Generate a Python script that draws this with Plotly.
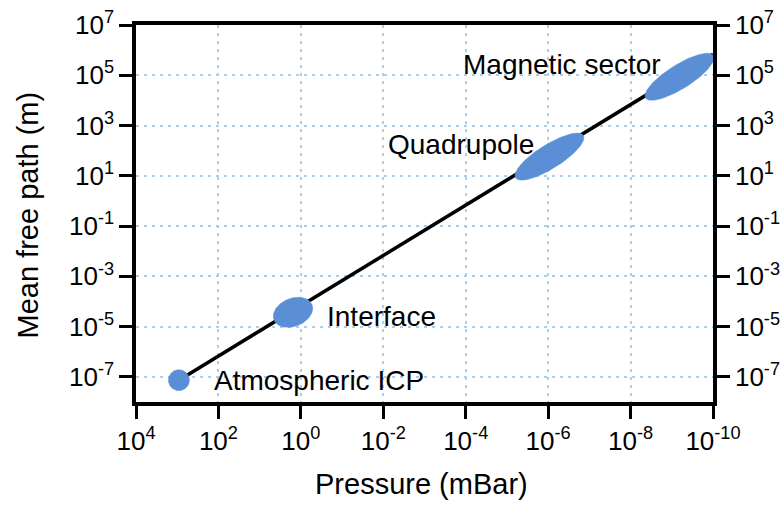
import numpy as np
import plotly.graph_objects as go

# ---------------- data ----------------
labels = ["Atmospheric ICP", "Interface", "Quadrupole", "Magnetic sector"]
pressure = [910, 1.55, 9.3e-7, 6.5e-10]          # mBar (region centres)
mean_free_path = [7.4e-8, 3.7e-5, 58, 8.7e4]      # m

line_pressure = [910, 1e-10]
line_mfp = [7.4e-8, 6.8e5]

x_tick_exp = [4, 2, 0, -2, -4, -6, -8, -10]
y_tick_exp = [-7, -5, -3, -1, 1, 3, 5, 7]

x_title = "Pressure (mBar)"
y_title = "Mean free path (m)"

# ---------------- style / layout ----------------
W, H = 780, 506
ML, MR, MT, MB = 136, 67, 25, 104
X_RANGE = [4, -10]
Y_RANGE = [-8, 7]
ppd_x = (W - ML - MR) / abs(X_RANGE[1] - X_RANGE[0])
ppd_y = (H - MT - MB) / abs(Y_RANGE[1] - Y_RANGE[0])

BLUE = "#5a8fd6"
GRID = "#a9cfe9"
FONT = "Liberation Sans, Arial, sans-serif"
TICK_SIZE = 26

# ellipse semi-axes (px) and tilt (deg)
ell_style = [(10.5, 10.5, 0), (20.5, 14, 22), (40, 12, 32), (40, 12, 32)]
# label placement: anchor, xshift, yshift (px)
lab_style = [("left", 33, 0), ("left", 32, -4), ("right", -13.5, 12), ("right", -16.5, 12)]

fig = go.Figure()

fig.add_trace(go.Scatter(
    x=line_pressure, y=line_mfp, mode="lines",
    line=dict(color="black", width=3.5), hoverinfo="skip", showlegend=False))

# invisible trace so that the mirrored right-hand axis is drawn
fig.add_trace(go.Scatter(
    x=line_pressure, y=line_mfp, yaxis="y2", mode="lines",
    line=dict(color="rgba(0,0,0,0)", width=0), hoverinfo="skip", showlegend=False))

t = np.linspace(0, 2 * np.pi, 181)
for p, m, (a, b, th) in zip(pressure, mean_free_path, ell_style):
    th = np.radians(th)
    dx = a * np.cos(t) * np.cos(th) - b * np.sin(t) * np.sin(th)
    dy = a * np.cos(t) * np.sin(th) + b * np.sin(t) * np.cos(th)
    xs = 10 ** (np.log10(p) - dx / ppd_x)   # reversed x axis
    ys = 10 ** (np.log10(m) + dy / ppd_y)
    fig.add_trace(go.Scatter(
        x=xs, y=ys, mode="lines", fill="toself", fillcolor=BLUE,
        line=dict(color=BLUE, width=0.5), hoverinfo="skip", showlegend=False))

for lab, p, m, (anc, xs_, ys_) in zip(labels, pressure, mean_free_path, lab_style):
    fig.add_annotation(
        x=np.log10(p), y=np.log10(m), xref="x", yref="y", text=lab,
        showarrow=False, xanchor=anc, yanchor="middle", xshift=xs_, yshift=ys_,
        font=dict(family=FONT, size=28, color="black"))

# axis titles
fig.add_annotation(x=0.5, y=0, xref="paper", yref="paper", text=x_title,
                   showarrow=False, xanchor="center", yanchor="middle",
                   xshift=-3, yshift=-82, font=dict(family=FONT, size=29, color="black"))
fig.add_annotation(x=0, y=0.5, xref="paper", yref="paper", text=y_title,
                   showarrow=False, xanchor="center", yanchor="middle", textangle=-90,
                   xshift=-109, yshift=-2, font=dict(family=FONT, size=29, color="black"))

xt_vals = [10.0 ** e for e in x_tick_exp]
xt_text = [f"10<sup>{e}</sup>" for e in x_tick_exp]
yt_vals = [10.0 ** e for e in y_tick_exp]
yt_text = [f"10<sup>{e}</sup>" for e in y_tick_exp]

tickfont = dict(family=FONT, size=TICK_SIZE, color="black")
common = dict(type="log", showline=True, linecolor="black", linewidth=3.5,
              ticks="outside", ticklen=13, tickwidth=3, tickcolor="black",
              tickfont=tickfont, zeroline=False, automargin=False)

fig.update_layout(
    width=W, height=H,
    margin=dict(l=ML, r=MR, t=MT, b=MB, pad=0),
    paper_bgcolor="white", plot_bgcolor="white",
    font=dict(family=FONT, color="black"),
    xaxis=dict(**common, range=X_RANGE, mirror=True,
               tickmode="array", tickvals=xt_vals, ticktext=xt_text,
               showgrid=True, gridcolor=GRID, gridwidth=1.5, griddash="3px,5px"),
    yaxis=dict(**common, range=Y_RANGE,
               tickmode="array", tickvals=yt_vals, ticktext=yt_text,
               showgrid=True, gridcolor=GRID, gridwidth=1.5, griddash="3px,5px"),
    yaxis2=dict(**common, range=Y_RANGE, overlaying="y", side="right",
                tickmode="array", tickvals=yt_vals, ticktext=yt_text,
                showgrid=False),
)

fig.write_html("out.html", config={"displayModeBar": False},
               post_script="document.body.style.margin='0';")
